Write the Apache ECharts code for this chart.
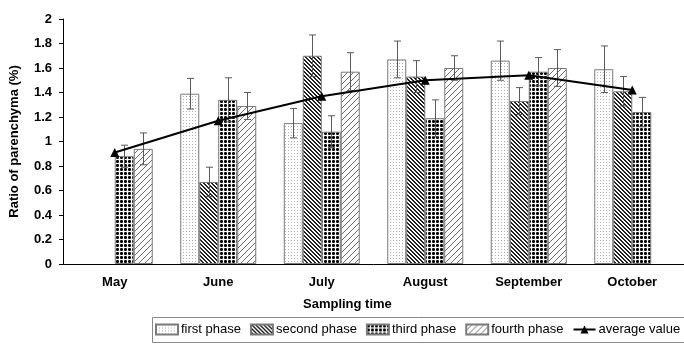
<!DOCTYPE html>
<html>
<head>
<meta charset="utf-8">
<script src="https://cdn.jsdelivr.net/npm/echarts@6/dist/echarts.min.js"></script>
<style>
html,body{margin:0;padding:0;background:#fff;}
#chart{width:684px;height:355px;}
</style>
</head>
<body>
<div id="chart"></div>
<script>
var categories = ['May', 'June', 'July', 'August', 'September', 'October'];
var firstPhase  = [null, 1.39, 1.15, 1.67, 1.66, 1.59];
var secondPhase = [null, 0.67, 1.70, 1.53, 1.33, 1.41];
var thirdPhase  = [0.88, 1.34, 1.08, 1.19, 1.57, 1.24];
var fourthPhase = [0.94, 1.29, 1.57, 1.60, 1.60, null];
var firstErr  = [null, 0.125, 0.12, 0.15, 0.16, 0.19];
var secondErr = [null, 0.12, 0.17, 0.13, 0.11, 0.12];
var thirdErr  = [0.09, 0.18, 0.13, 0.15, 0.115, 0.12];
var fourthErr = [0.13, 0.11, 0.155, 0.10, 0.15, null];
var averageValue = [0.91, 1.17, 1.37, 1.50, 1.54, 1.42];
var yTicks = [0, 0.2, 0.4, 0.6, 0.8, 1, 1.2, 1.4, 1.6, 1.8, 2];

var FONT = '"Liberation Sans", Arial, sans-serif';
var BAR_W = 19;

function makePattern(type) {
  var c = document.createElement('canvas');
  var ctx = c.getContext('2d');
  if (type === 'dots') {
    c.width = 3; c.height = 3;
    ctx.fillStyle = '#fff'; ctx.fillRect(0, 0, 3, 3);
    ctx.fillStyle = '#b0b0b0';
    ctx.fillRect(0, 0, 1, 1);
  } else if (type === 'darkhatch') {
    c.width = 4; c.height = 4;
    ctx.fillStyle = '#fff'; ctx.fillRect(0, 0, 4, 4);
    ctx.fillStyle = '#222';
    for (var i = 0; i < 4; i++) {
      ctx.fillRect(i, i, 1, 1);
      ctx.fillRect((i + 1) % 4, i, 1, 1);
    }
  } else if (type === 'blackdots') {
    c.width = 4; c.height = 4;
    ctx.fillStyle = '#fff'; ctx.fillRect(0, 0, 4, 4);
    ctx.fillStyle = '#000';
    ctx.fillRect(1, 0, 1, 3);
    ctx.fillRect(0, 1, 3, 1);
    ctx.fillStyle = '#555';
    ctx.fillRect(0, 0, 1, 1);
    ctx.fillRect(2, 0, 1, 1);
    ctx.fillRect(0, 2, 1, 1);
    ctx.fillRect(2, 2, 1, 1);
  } else if (type === 'lighthatch') {
    c.width = 6; c.height = 6;
    ctx.fillStyle = '#fff'; ctx.fillRect(0, 0, 6, 6);
    ctx.fillStyle = '#6a6a6a';
    for (var j = 0; j < 6; j++) {
      ctx.fillRect(5 - j, j, 1, 1);
    }
  }
  return { image: c, repeat: 'repeat' };
}

var patterns = [makePattern('dots'), makePattern('darkhatch'), makePattern('blackdots'), makePattern('lighthatch')];
var barData = [firstPhase, secondPhase, thirdPhase, fourthPhase];
var errData = [firstErr, secondErr, thirdErr, fourthErr];
var names = ['first phase', 'second phase', 'third phase', 'fourth phase'];

var series = [];
for (var s = 0; s < 4; s++) {
  series.push({
    name: names[s],
    type: 'bar',
    data: barData[s],
    barWidth: BAR_W,
    barGap: '0%',
    itemStyle: { color: patterns[s], borderColor: '#7a7a7a', borderWidth: 1 },
    z: 2
  });
}

for (var e = 0; e < 4; e++) {
  (function (idx) {
    var data = [];
    for (var k = 0; k < categories.length; k++) {
      if (barData[idx][k] != null && errData[idx][k] != null) {
        data.push([k, barData[idx][k], errData[idx][k]]);
      }
    }
    series.push({
      type: 'custom',
      name: 'err' + idx,
      data: data,
      z: 4,
      silent: true,
      renderItem: function (params, api) {
        var ci = api.value(0), v = api.value(1), er = api.value(2);
        var top = api.coord([ci, v + er]);
        var bot = api.coord([ci, v - er]);
        var x = Math.round(top[0] + (idx - 1.5) * BAR_W) + 0.5;
        var cap = 3.5;
        var st = { stroke: '#5a5a5a', lineWidth: 1 };
        return {
          type: 'group',
          children: [
            { type: 'line', shape: { x1: x, y1: top[1], x2: x, y2: bot[1] }, style: st },
            { type: 'line', shape: { x1: x - cap, y1: top[1], x2: x + cap, y2: top[1] }, style: st },
            { type: 'line', shape: { x1: x - cap, y1: bot[1], x2: x + cap, y2: bot[1] }, style: st }
          ]
        };
      }
    });
  })(e);
}

series.push({
  name: 'average value',
  type: 'line',
  data: averageValue,
  symbol: 'triangle',
  symbolSize: 9,
  lineStyle: { color: '#000', width: 2 },
  itemStyle: { color: '#000' },
  z: 5
});

var chart = echarts.init(document.getElementById('chart'), null, { renderer: 'canvas' });
chart.setOption({
  animation: false,
  backgroundColor: '#fff',
  textStyle: { fontFamily: FONT },
  grid: { left: 62, right: -11, top: 19, bottom: 91, containLabel: false },
  xAxis: {
    type: 'category',
    data: categories,
    axisLine: { lineStyle: { color: '#000', width: 1 } },
    axisTick: { inside: true, length: 4, lineStyle: { color: '#000' } },
    axisLabel: { color: '#000', fontWeight: 'bold', fontSize: 13, fontFamily: FONT, margin: 12 }
  },
  yAxis: {
    type: 'value',
    min: 0, max: 2, interval: 0.2,
    name: 'Ratio of parenchyma (%)',
    nameLocation: 'middle',
    nameGap: 42,
    nameRotate: 90,
    nameTextStyle: { color: '#000', fontWeight: 'bold', fontSize: 13, fontFamily: FONT },
    axisLine: { show: true, lineStyle: { color: '#000', width: 1 } },
    axisTick: { show: true, inside: false, length: 4, lineStyle: { color: '#000' } },
    splitLine: { show: false },
    axisLabel: {
      color: '#000', fontWeight: 'bold', fontSize: 13, fontFamily: FONT, margin: 11,
      formatter: function (v) {
        for (var i = 0; i < yTicks.length; i++) {
          if (Math.abs(yTicks[i] - v) < 1e-6) return String(yTicks[i]);
        }
        return '';
      }
    }
  },
  legend: {
    left: 155,
    top: 323,
    itemWidth: 22,
    itemHeight: 10,
    itemGap: 9,
    padding: 0,
    data: [
      { name: 'first phase', icon: 'rect' },
      { name: 'second phase', icon: 'rect' },
      { name: 'third phase', icon: 'rect' },
      { name: 'fourth phase', icon: 'rect' },
      { name: 'average value' }
    ],
    textStyle: { color: '#000', fontSize: 13, fontFamily: FONT, padding: [0, 0, 0, -2] }
  },
  graphic: [
    {
      type: 'text',
      left: 348 - 45,
      top: 298,
      style: { text: 'Sampling time', fill: '#000', font: 'bold 13px ' + FONT }
    },
    {
      type: 'rect',
      shape: { x: 152.5, y: 317.5, width: 560, height: 25 },
      style: { fill: 'none', stroke: '#888', lineWidth: 1 },
      z: -1
    }
  ],
  series: series
});
</script>
</body>
</html>
